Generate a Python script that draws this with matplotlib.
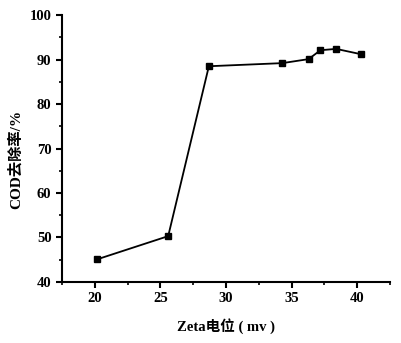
import numpy as np
import matplotlib.pyplot as plt
from matplotlib.ticker import MultipleLocator

# Datos
zeta = np.array([20.2, 25.6, 28.7, 34.3, 36.3, 37.2, 38.4, 40.3])
cod = np.array([45.1, 50.3, 88.5, 89.2, 90.1, 92.1, 92.4, 91.2])

plt.rcParams['font.family'] = ['Liberation Serif', 'Noto Sans CJK SC']
plt.rcParams['font.weight'] = 'bold'

fig = plt.figure(figsize=(4.02, 3.43), dpi=100)
ax = fig.add_axes([0.154, 0.178, 0.816, 0.778])

ax.plot(zeta, cod, '-s', color='black', linewidth=1.3, markersize=4)

ax.set_xlim(17.5, 42.5)
ax.set_ylim(40, 100)
ax.xaxis.set_major_locator(MultipleLocator(5))
ax.xaxis.set_minor_locator(MultipleLocator(2.5))
ax.yaxis.set_major_locator(MultipleLocator(10))
ax.yaxis.set_minor_locator(MultipleLocator(5))

for s in ['top', 'right']:
    ax.spines[s].set_visible(False)
for s in ['left', 'bottom']:
    ax.spines[s].set_linewidth(1.5)
ax.tick_params(which='major', direction='out', length=4, width=1.5, labelsize=10.5)
ax.tick_params(which='minor', direction='out', length=2.5, width=1.2)
for lab in ax.get_xticklabels() + ax.get_yticklabels():
    lab.set_fontweight('bold')

ax.set_xlabel('Zeta电位 ( mv )', fontsize=10.5, fontweight='bold', labelpad=9)
ax.set_ylabel('COD去除率/%', fontsize=11, fontweight='bold')
ax.yaxis.set_label_coords(-0.12, 0.46)

fig.savefig('out.png', dpi=100)
